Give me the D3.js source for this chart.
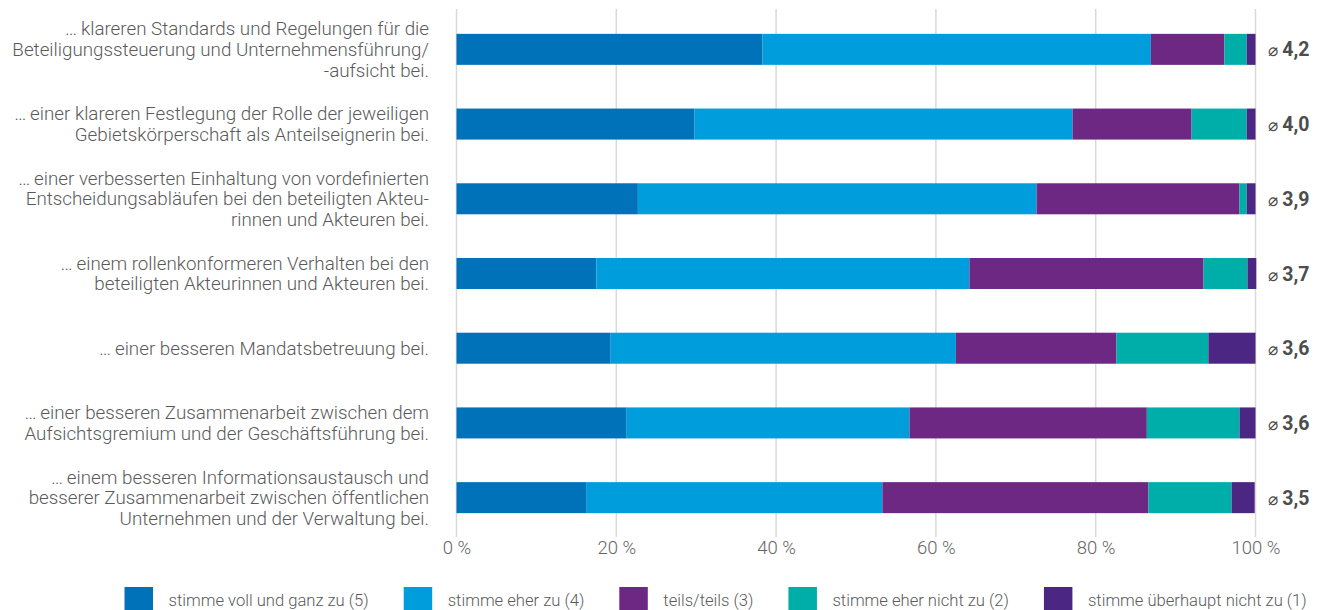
<!DOCTYPE html>
<html><head><meta charset="utf-8">
<script src="https://cdn.jsdelivr.net/npm/d3@7"></script>
<style>
html,body{margin:0;padding:0;background:#fff;}
svg{display:block;}
text{font-family:Roboto,"Noto Sans",sans-serif;}
</style></head>
<body>
<svg id="chart" width="1318" height="610"></svg>
<script>
const categories = [
  ["…\u2009klareren Standards und Regelungen für die", "Beteiligungssteuerung und Unternehmensführung/", "-aufsicht bei."],
  ["…\u2009einer klareren Festlegung der Rolle der jeweiligen", "Gebietskörperschaft als Anteilseignerin bei."],
  ["…\u2009einer verbesserten Einhaltung von vordefinierten", "Entscheidungsabläufen bei den beteiligten Akteu-", "rinnen und Akteuren bei."],
  ["…\u2009einem rollenkonformeren Verhalten bei den", "beteiligten Akteurinnen und Akteuren bei."],
  ["…\u2009einer besseren Mandatsbetreuung bei."],
  ["…\u2009einer besseren Zusammenarbeit zwischen dem", "Aufsichtsgremium und der Geschäftsführung bei."],
  ["…\u2009einem besseren Informationsaustausch und", "besserer Zusammenarbeit zwischen öffentlichen", "Unternehmen und der Verwaltung bei."]
];
const seriesNames = ["stimme voll und ganz zu (5)", "stimme eher zu (4)", "teils/teils (3)", "stimme eher nicht zu (2)", "stimme überhaupt nicht zu (1)"];
const s5 = [38.3, 29.8, 22.7, 17.5, 19.3, 21.3, 16.3];
const s4 = [48.6, 47.3, 49.9, 46.7, 43.2, 35.4, 37.0];
const s3 = [9.2, 14.9, 25.4, 29.3, 20.1, 29.7, 33.3];
const s2 = [2.8, 6.9, 0.9, 5.5, 11.5, 11.6, 10.4];
const s1 = [1.1, 1.1, 1.1, 1.1, 5.9, 2.0, 2.9];
const averages = ["4,2", "4,0", "3,9", "3,7", "3,6", "3,6", "3,5"];
const tickValues = [0, 20, 40, 60, 80, 100];
const colors = ["#0072B9", "#009DDC", "#6C2882", "#00AEA9", "#4B2683"];

const svg = d3.select("#chart");
const textColor = "#5a5a5a";
const ids = categories.map((c, i) => "c" + i);
const rows = ids.map((id, i) => ({id, v: [s5[i], s4[i], s3[i], s2[i], s1[i]]}));
const keys = [0, 1, 2, 3, 4];

const x = d3.scaleLinear().domain([0, 100]).range([456.5, 1255.5]);
const y = d3.scaleBand().domain(ids).range([12, 535]).paddingInner(0.585).paddingOuter(0.2925);

// gridlines
svg.append("g").selectAll("line").data(tickValues).join("line")
  .attr("x1", d => x(d)).attr("x2", d => x(d))
  .attr("y1", 9).attr("y2", 537)
  .attr("stroke", "#d9d9d9").attr("stroke-width", 1.5);

// bars
const stack = d3.stack().keys(keys).value((d, k) => d.v[k]);
const layers = stack(rows);
svg.append("g").selectAll("g").data(layers).join("g")
  .attr("fill", (d, i) => colors[i])
  .selectAll("rect").data(d => d).join("rect")
  .attr("x", d => x(d[0]))
  .attr("width", d => x(d[1]) - x(d[0]))
  .attr("y", d => y(d.data.id))
  .attr("height", y.bandwidth());

// category labels
const lh = 20.7;
const lab = svg.append("g").attr("font-size", 18.8).attr("font-weight", 300).attr("fill", textColor).attr("text-anchor", "end");
categories.forEach((lines, i) => {
  const cy = y(ids[i]) + y.bandwidth() / 2;
  const t = lab.append("text").attr("x", 429);
  lines.forEach((ln, j) => {
    t.append("tspan").attr("x", 429)
      .attr("y", cy + (j - (lines.length - 1) / 2) * lh)
      .attr("dy", "0.35em").text(ln);
  });
});

// averages
const av = svg.append("g").attr("fill", "#4d4d4d");
averages.forEach((a, i) => {
  const cy = y(ids[i]) + y.bandwidth() / 2;
  const t = av.append("text").attr("x", 1268).attr("y", cy).attr("dy", "0.36em").attr("font-size", 19.5);
  t.append("tspan").attr("font-weight", 400).attr("font-size", 17).text("\u2300 ");
  t.append("tspan").attr("font-weight", 700).text(a);
});

// x axis labels
const xAxis = d3.axisBottom(x).tickValues(tickValues).tickSize(0).tickFormat(d => d + " %");
const ax = svg.append("g").attr("transform", "translate(0,540)").call(xAxis);
ax.select(".domain").remove();
ax.selectAll("text").attr("font-size", 18.5).attr("font-weight", 300).attr("fill", "#666")
  .attr("font-family", "Roboto, sans-serif").attr("dy", "0.71em").attr("y", 1);

// legend
const lg = svg.append("g").attr("font-size", 16.6).attr("font-weight", 300).attr("fill", textColor);
let lx = 124.5;
seriesNames.forEach((n, i) => {
  lg.append("rect").attr("x", lx).attr("y", 587).attr("width", 28.5).attr("height", 28.5).attr("fill", colors[i]);
  const t = lg.append("text").attr("x", lx + 44).attr("y", 600).attr("dy", "0.35em").text(n);
  lx = lx + 44 + t.node().getComputedTextLength() + 35;
});
</script>
</body></html>
